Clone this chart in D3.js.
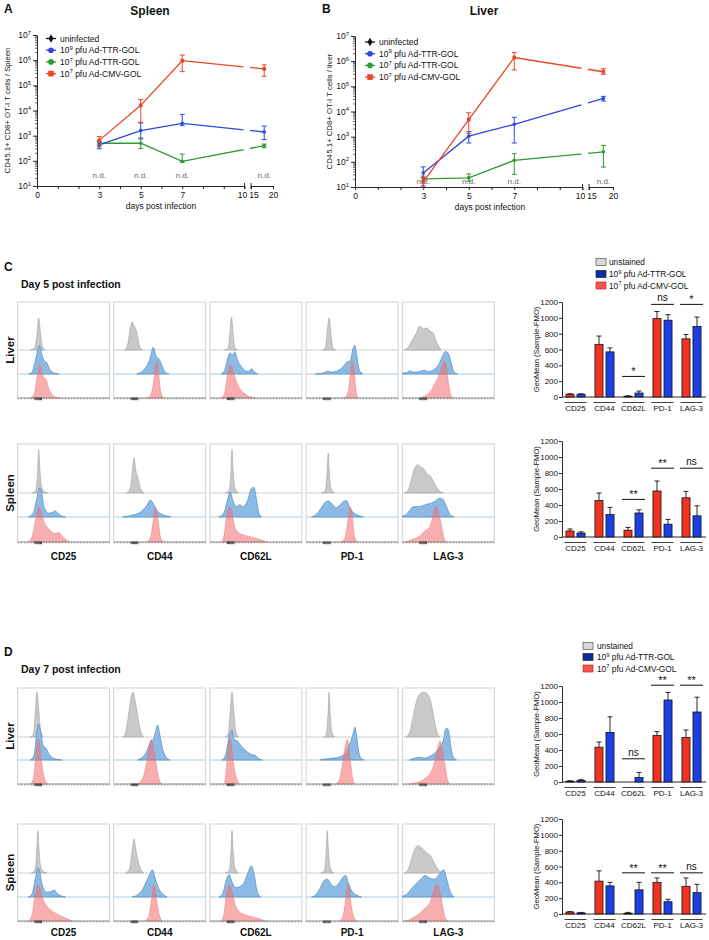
<!DOCTYPE html>
<html><head><meta charset="utf-8">
<script src="https://cdn.jsdelivr.net/npm/d3@7"></script>
<style>
body{margin:0;background:#fff}
svg{display:block}
text{font-family:"Liberation Sans",Arial,Helvetica,sans-serif;fill:#111}
</style>
</head><body>
<svg id="fig" width="709" height="940"></svg>
<script>
// ================= DATA: panels A/B (cells per organ, log scale) =================
const days = [3, 5, 7, 18];
const ndDays = [3, 5, 7, 18];
const decades = [1e1, 1e2, 1e3, 1e4, 1e5, 1e6, 1e7];
const xTickLabels = [0, 3, 5, 7, 10];
const xTickLabels2 = [15, 20];

const spleenTTR9   = [430, 1600, 3100, 1400];
const spleenTTR9Lo = [300, 800, 2500, 700];
const spleenTTR9Hi = [560, 3200, 7000, 2400];
const spleenTTR7   = [500, 500, 95, 400];
const spleenTTR7Lo = [360, 310, 88, 330];
const spleenTTR7Hi = [620, 740, 185, 460];
const spleenCMV    = [650, 16000, 950000, 450000];
const spleenCMVLo  = [420, 3400, 350000, 230000];
const spleenCMVHi  = [920, 27000, 1600000, 650000];

const liverTTR9    = [36, 1050, 3100, 33000];
const liverTTR9Lo  = [10, 560, 560, 26000];
const liverTTR9Hi  = [63, 1600, 5900, 40000];
const liverTTR7    = [21, 23, 115, 250];
const liverTTR7Lo  = [17, 17, 32, 62];
const liverTTR7Hi  = [27, 33, 210, 450];
const liverCMV     = [16, 4800, 1400000, 380000];
const liverCMVLo   = [11, 1350, 450000, 300000];
const liverCMVHi   = [24, 8900, 2200000, 500000];

// ================= DATA: bar charts (GeoMean Sample-FMO) =================
const barCats = ["CD25", "CD44", "CD62L", "PD-1", "LAG-3"];
const barTicks = [0, 200, 400, 600, 800, 1000, 1200];

const cLiverCMV    = [35, 665, 10, 990, 735];
const cLiverCMVErr = [6, 105, 5, 90, 55];
const cLiverTTR    = [35, 570, 50, 970, 890];
const cLiverTTRErr = [6, 50, 25, 70, 120];
const cLiverSig    = [["CD62L", "*", 260], ["PD-1", "ns", 1170], ["LAG-3", "*", 1170]];

const cSpleenCMV    = [75, 455, 85, 575, 490];
const cSpleenCMVErr = [25, 95, 35, 125, 80];
const cSpleenTTR    = [50, 280, 300, 160, 265];
const cSpleenTTRErr = [15, 90, 40, 60, 125];
const cSpleenSig    = [["CD62L", "**", 470], ["PD-1", "**", 860], ["LAG-3", "ns", 860]];

const dLiverCMV    = [10, 435, 0, 580, 555];
const dLiverCMVErr = [5, 65, 0, 50, 95];
const dLiverTTR    = [20, 620, 55, 1025, 875];
const dLiverTTRErr = [10, 195, 65, 95, 185];
const dLiverSig    = [["CD62L", "ns", 290], ["PD-1", "**", 1210], ["LAG-3", "**", 1210]];

const dSpleenCMV    = [25, 415, 10, 400, 350];
const dSpleenCMVErr = [5, 130, 10, 55, 105];
const dSpleenTTR    = [15, 355, 305, 155, 270];
const dSpleenTTRErr = [5, 45, 95, 30, 105];
const dSpleenSig    = [["CD62L", "**", 520], ["PD-1", "**", 520], ["LAG-3", "ns", 520]];

// ================= DATA: histograms ([fluorescence %, % of max]) =================
const cLiverGray = [
  [[14,0],[18,3],[21,30],[23,68],[25,35],[27,8],[30,0]],
  [[12,0],[15,10],[18,45],[20,60],[22,52],[24,45],[26,30],[28,8],[31,0]],
  [[16,0],[20,5],[22,40],[23.5,70],[25,40],[27,6],[30,0]],
  [[18,0],[21,5],[23,40],[25,68],[27,35],[29,5],[32,0]],
  [[2,0],[6,5],[10,18],[15,35],[19,51],[23,45],[27,47],[30,40],[33,38],[37,18],[42,0]]
];
const cLiverBlue = [
  [[12,0],[16,5],[20,35],[23,58],[24,61],[26,45],[29,28],[32,24],[35,10],[40,2],[45,0]],
  [[25,0],[30,4],[35,15],[39,30],[43,57],[46,38],[50,30],[53,15],[57,2],[60,0]],
  [[12,0],[16,8],[20,38],[22,45],[24,40],[27,47],[30,30],[35,14],[40,6],[43,6],[45,11],[48,5],[52,0]],
  [[10,0],[18,2],[24,6],[28,4],[35,8],[40,15],[44,25],[48,28],[51,55],[53,61],[55,40],[58,8],[62,0]],
  [[0,2],[5,3],[8,7],[12,4],[18,5],[24,8],[28,5],[34,9],[40,22],[44,40],[47,48],[50,44],[53,25],[56,5],[60,0]]
];
const cLiverRed = [
  [[14,0],[18,8],[21,40],[24,72],[26,60],[28,45],[31,40],[34,20],[38,6],[42,2],[46,0]],
  [[36,0],[40,6],[43,30],[46,75],[47,80],[49,50],[51,15],[54,0]],
  [[12,0],[16,10],[19,50],[21,68],[23,70],[25,60],[28,40],[32,22],[36,12],[40,6],[45,2],[50,0]],
  [[40,0],[44,5],[47,30],[49,70],[50,78],[52,65],[54,20],[56,0]],
  [[20,0],[25,5],[30,12],[35,30],[38,40],[41,55],[44,75],[46,78],[48,70],[50,35],[53,5],[55,0]]
];
const cSpleenGray = [
  [[16,0],[20,6],[22,50],[23,92],[24,60],[26,15],[29,3],[33,0]],
  [[14,0],[18,10],[20,40],[22,75],[24,48],[26,35],[29,10],[33,0]],
  [[17,0],[21,6],[23,50],[24,92],[25,55],[27,12],[31,0]],
  [[17,0],[21,6],[23,50],[24,85],[25,50],[27,10],[31,0]],
  [[2,0],[6,5],[10,30],[14,55],[17,60],[20,55],[23,52],[27,40],[31,35],[35,20],[40,5],[44,0]]
];
const cSpleenBlue = [
  [[12,0],[17,8],[21,40],[24,62],[26,55],[29,20],[34,8],[38,10],[41,13],[44,8],[48,2],[52,0]],
  [[10,0],[16,2],[22,5],[27,8],[32,15],[36,25],[40,36],[43,28],[47,14],[52,6],[58,2],[62,0]],
  [[10,0],[15,8],[19,35],[22,53],[25,35],[29,22],[32,26],[36,22],[41,35],[45,60],[48,63],[50,45],[53,10],[56,0]],
  [[6,0],[10,4],[15,15],[20,30],[24,34],[28,28],[32,20],[36,24],[40,32],[44,35],[47,22],[51,10],[56,4],[62,0]],
  [[0,2],[4,5],[8,14],[12,22],[16,22],[22,24],[28,28],[32,30],[36,34],[40,40],[44,38],[48,22],[52,5],[56,0]]
];
const cSpleenRed = [
  [[12,0],[16,12],[20,50],[23,74],[26,62],[29,42],[33,30],[37,22],[41,18],[45,20],[48,14],[52,6],[57,0]],
  [[36,0],[40,10],[43,45],[45,74],[47,65],[49,35],[51,10],[54,0]],
  [[12,0],[15,10],[18,55],[21,74],[24,68],[26,40],[30,22],[35,16],[42,12],[50,8],[56,4],[62,0]],
  [[38,0],[42,8],[45,40],[47,72],[48,74],[50,60],[52,20],[55,0]],
  [[3,0],[8,3],[14,8],[20,14],[25,25],[29,30],[32,45],[35,72],[37,74],[40,60],[43,30],[46,5],[48,0]]
];
const dLiverGray = [
  [[14,0],[17,5],[19,40],[21,96],[23,60],[25,15],[28,0]],
  [[10,0],[13,10],[16,45],[19,85],[21,95],[23,80],[26,45],[29,15],[32,0]],
  [[17,0],[20,8],[22,50],[24,95],[26,55],[28,12],[31,0]],
  [[19,0],[22,6],[24,55],[25,95],[26,55],[28,10],[31,0]],
  [[4,0],[8,10],[12,45],[16,80],[20,93],[24,95],[28,90],[31,75],[34,45],[37,15],[41,0]]
];
const dLiverBlue = [
  [[14,0],[18,10],[21,60],[23,76],[25,62],[28,30],[31,25],[34,14],[38,5],[44,1],[48,0]],
  [[26,0],[30,4],[35,15],[40,38],[44,48],[47,72],[48,74],[50,55],[53,25],[57,6],[61,0]],
  [[13,0],[17,10],[21,50],[23,58],[24,64],[26,45],[30,40],[34,30],[40,18],[45,12],[49,10],[53,3],[57,0]],
  [[15,0],[20,2],[30,4],[38,8],[43,15],[47,32],[51,55],[53,70],[55,50],[57,20],[60,3],[63,0]],
  [[8,0],[12,3],[18,6],[24,4],[30,8],[36,16],[41,28],[45,45],[47,66],[49,67],[51,55],[53,25],[56,5],[59,0]]
];
const dLiverRed = [
  [[14,0],[17,10],[20,60],[22,93],[23,95],[25,70],[27,35],[30,8],[33,0]],
  [[25,0],[29,5],[33,20],[36,50],[39,85],[41,95],[43,80],[46,45],[49,12],[52,0]],
  [[15,0],[17,15],[19,60],[21,95],[22,98],[24,75],[26,40],[29,12],[32,0]],
  [[32,0],[36,8],[39,35],[42,75],[44,92],[45,95],[47,70],[49,35],[51,8],[53,0]],
  [[8,0],[13,2],[20,6],[26,14],[30,22],[34,40],[37,65],[40,88],[41,92],[43,80],[46,45],[49,10],[51,0]]
];
const dSpleenGray = [
  [[15,0],[19,6],[21,50],[22,90],[23,60],[25,15],[28,3],[32,0]],
  [[13,0],[17,8],[20,45],[22,72],[24,50],[26,30],[29,10],[33,0]],
  [[17,0],[21,6],[23,50],[24,90],[25,55],[27,12],[31,0]],
  [[16,0],[20,6],[22,50],[23,90],[24,55],[26,12],[30,0]],
  [[2,0],[6,6],[10,30],[14,52],[17,58],[20,55],[23,50],[27,42],[31,36],[35,20],[40,5],[44,0]]
];
const dSpleenBlue = [
  [[12,0],[16,8],[20,45],[22,62],[24,55],[27,25],[32,10],[37,12],[40,15],[43,8],[48,2],[52,0]],
  [[20,0],[26,5],[31,15],[36,35],[40,52],[42,58],[45,40],[49,18],[54,5],[58,0]],
  [[10,0],[14,8],[18,38],[21,48],[24,32],[28,20],[32,22],[37,30],[42,55],[45,66],[48,50],[51,15],[55,0]],
  [[6,0],[10,4],[15,18],[20,36],[23,38],[27,28],[31,22],[36,30],[40,42],[43,46],[46,30],[50,12],[55,4],[60,0]],
  [[0,2],[5,6],[10,18],[15,28],[20,38],[25,46],[30,40],[35,38],[40,48],[45,58],[48,40],[52,12],[56,0]]
];
const dSpleenRed = [
  [[12,0],[16,15],[19,55],[22,78],[25,65],[28,45],[32,32],[37,22],[42,16],[48,10],[55,4],[60,0]],
  [[34,0],[38,10],[41,45],[43,78],[45,70],[47,40],[50,10],[53,0]],
  [[12,0],[15,12],[18,58],[21,78],[24,65],[27,38],[31,22],[36,15],[44,10],[52,6],[60,0]],
  [[36,0],[40,10],[43,45],[45,78],[47,70],[49,35],[52,8],[55,0]],
  [[3,0],[8,3],[14,10],[20,18],[25,28],[29,35],[32,50],[35,72],[38,78],[41,62],[44,30],[47,5],[50,0]]
];

// ================= STYLE =================
const COL = { unin: "#111", ttr9: "#2b47e0", ttr7: "#2f9a33", cmv: "#ea4526" };
const BAR = { cmv: "#ef3320", ttr: "#1d3fe6" };
const svg = d3.select("#fig");

function txt(g, x, y, s, size, opt = {}) {
  const t = g.append("text").attr("x", x).attr("y", y).attr("font-size", size)
    .attr("text-anchor", opt.anchor || "start").attr("font-weight", opt.bold ? "bold" : "normal");
  if (opt.fill) t.style("fill", opt.fill);
  if (opt.rotate) t.attr("transform", `rotate(-90,${x},${y})`);
  t.text(s);
  return t;
}
function supText(g, x, y, base, sup, rest, size, anchor) {
  const t = g.append("text").attr("x", x).attr("y", y).attr("font-size", size).attr("text-anchor", anchor || "start");
  t.append("tspan").text(base);
  t.append("tspan").attr("dy", -size * 0.4).attr("font-size", size * 0.7).text(sup);
  if (rest) t.append("tspan").attr("dy", size * 0.4).text(rest);
  return t;
}
function styleAxis(sel, fs) {
  sel.attr("font-family", null).attr("font-size", fs);
  sel.selectAll("path,line").attr("stroke", "#111").attr("stroke-width", 0.9);
  sel.selectAll("text").style("fill", "#111");
}

// ================= PANELS A / B =================
function linePanel(cfg) {
  const g = svg.append("g");
  const x = d3.scaleLinear().domain([0, 10, 15, 20]).range(cfg.xr);
  const y = d3.scaleLog().domain([10, 1e7]).range([cfg.yb, cfg.yt]);
  const ax0 = cfg.xr[0];
  const ya = g.append("g").attr("transform", `translate(${ax0},0)`)
    .call(d3.axisLeft(y).tickValues(decades).tickFormat("").tickSize(4).tickSizeOuter(0));
  styleAxis(ya, 8);
  decades.slice(0, -1).forEach(d => {
    for (let k = 2; k < 10; k++) {
      g.append("line").attr("x1", ax0 - 2).attr("x2", ax0).attr("y1", y(d * k)).attr("y2", y(d * k))
        .attr("stroke", "#111").attr("stroke-width", 0.6);
    }
  });
  decades.forEach(d => supText(g, ax0 - 6, y(d) + 3, "10", Math.round(Math.log10(d)), null, 8.5, "end"));
  const s1 = d3.scaleLinear().domain([0, 10]).range([x(0), x(10)]);
  const s2 = d3.scaleLinear().domain([15, 20]).range([x(15), x(20)]);
  const xa1 = g.append("g").attr("transform", `translate(0,${cfg.yb})`)
    .call(d3.axisBottom(s1).tickValues(d3.range(0, 11)).tickFormat(d => xTickLabels.includes(d) ? d : "").tickSize(3).tickSizeOuter(0));
  const xa2 = g.append("g").attr("transform", `translate(0,${cfg.yb})`)
    .call(d3.axisBottom(s2).tickValues(xTickLabels2).tickFormat(d3.format("d")).tickSize(3).tickSizeOuter(0));
  styleAxis(xa1, 8.5); styleAxis(xa2, 8.5);
  xa1.selectAll("text").filter(d => d === 10).attr("dx", -2.5);
  xa2.selectAll("text").filter(d => d === 15).attr("dx", 2.5);
  [x(10), x(15)].forEach(px => g.append("line").attr("x1", px).attr("x2", px).attr("y1", cfg.yb - 3).attr("y2", cfg.yb + 3).attr("stroke", "#111").attr("stroke-width", 0.9));

  ndDays.forEach(d => txt(g, x(d), cfg.yb - cfg.ndOff, "n.d.", 8, { anchor: "middle", fill: "#666" }));

  const cid = "clip" + cfg.id;
  const cp = svg.append("clipPath").attr("id", cid);
  cp.append("rect").attr("x", x(0) - 5).attr("y", 0).attr("width", x(10) - x(0) + 4).attr("height", 300);
  cp.append("rect").attr("x", x(15) - 1).attr("y", 0).attr("width", x(20) - x(15) + 10).attr("height", 300);

  const series = [
    { v: cfg.ttr7, lo: cfg.ttr7Lo, hi: cfg.ttr7Hi, c: COL.ttr7, m: "circle" },
    { v: cfg.ttr9, lo: cfg.ttr9Lo, hi: cfg.ttr9Hi, c: COL.ttr9, m: "circle" },
    { v: cfg.cmv, lo: cfg.cmvLo, hi: cfg.cmvHi, c: COL.cmv, m: "square" }
  ];
  const line = d3.line().x((d, i) => x(days[i])).y(d => y(d));
  series.forEach(s => {
    g.append("path").datum(s.v).attr("d", line).attr("fill", "none").attr("stroke", s.c)
      .attr("stroke-width", 1.3).attr("clip-path", `url(#${cid})`);
    days.forEach((d, i) => {
      const px = x(d);
      g.append("line").attr("x1", px).attr("x2", px).attr("y1", y(s.lo[i])).attr("y2", y(s.hi[i])).attr("stroke", s.c).attr("stroke-width", 1);
      [s.lo[i], s.hi[i]].forEach(v => g.append("line").attr("x1", px - 2.5).attr("x2", px + 2.5).attr("y1", y(v)).attr("y2", y(v)).attr("stroke", s.c).attr("stroke-width", 1));
      if (s.m === "circle") g.append("circle").attr("cx", px).attr("cy", y(s.v[i])).attr("r", 1.8).attr("fill", s.c);
      else g.append("rect").attr("x", px - 1.8).attr("y", y(s.v[i]) - 1.8).attr("width", 3.6).attr("height", 3.6).attr("fill", s.c);
    });
  });

  const leg = [
    { c: COL.unin, m: "diamond", t: ["uninfected"] },
    { c: COL.ttr9, m: "circle", t: ["10", "9", " pfu Ad-TTR-GOL"] },
    { c: COL.ttr7, m: "circle", t: ["10", "7", " pfu Ad-TTR-GOL"] },
    { c: COL.cmv, m: "square", t: ["10", "7", " pfu Ad-CMV-GOL"] }
  ];
  leg.forEach((e, i) => {
    const ly = cfg.legY + i * 11.7, lx = cfg.legX;
    g.append("line").attr("x1", lx - 5).attr("x2", lx + 5).attr("y1", ly).attr("y2", ly).attr("stroke", e.c).attr("stroke-width", 1.3);
    if (e.m === "circle") g.append("circle").attr("cx", lx).attr("cy", ly).attr("r", 2.8).attr("fill", e.c);
    else if (e.m === "square") g.append("rect").attr("x", lx - 2.8).attr("y", ly - 2.8).attr("width", 5.6).attr("height", 5.6).attr("fill", e.c);
    else g.append("path").attr("d", d3.symbol(d3.symbolDiamond, 22)()).attr("transform", `translate(${lx},${ly})`).attr("fill", e.c);
    if (e.t.length === 1) txt(g, lx + 9, ly + 3, e.t[0], 8.5);
    else supText(g, lx + 9, ly + 3, e.t[0], e.t[1], e.t[2], 8.5);
  });

  txt(g, cfg.titleX, 15, cfg.title, 12, { anchor: "middle", bold: true });
  txt(g, cfg.letterX, 13, cfg.letter, 12, { bold: true });
  txt(g, (x(0) + x(20)) / 2 + 6, cfg.yb + 23, "days post infection", 8.5, { anchor: "middle" });
  txt(g, cfg.ylabX, (cfg.yb + cfg.yt) / 2, cfg.ylab, 7.8, { anchor: "middle", rotate: true });
}

linePanel({
  id: "A", letter: "A", letterX: 4, title: "Spleen", titleX: 150,
  xr: [37, 244.5, 251, 273], yb: 186, yt: 35, ndOff: 8,
  ttr9: spleenTTR9, ttr9Lo: spleenTTR9Lo, ttr9Hi: spleenTTR9Hi,
  ttr7: spleenTTR7, ttr7Lo: spleenTTR7Lo, ttr7Hi: spleenTTR7Hi,
  cmv: spleenCMV, cmvLo: spleenCMVLo, cmvHi: spleenCMVHi,
  legX: 51, legY: 38.5, ylabX: 10, ylab: "CD45.1+ CD8+ OT-I T cells / Spleen"
});
linePanel({
  id: "B", letter: "B", letterX: 322, title: "Liver", titleX: 484,
  xr: [355, 582.5, 589, 613], yb: 187, yt: 36, ndOff: 3,
  ttr9: liverTTR9, ttr9Lo: liverTTR9Lo, ttr9Hi: liverTTR9Hi,
  ttr7: liverTTR7, ttr7Lo: liverTTR7Lo, ttr7Hi: liverTTR7Hi,
  cmv: liverCMV, cmvLo: liverCMVLo, cmvHi: liverCMVHi,
  legX: 370, legY: 42, ylabX: 332, ylab: "CD45.1+ CD8+ OT-I T cells / liver"
});

// ================= HISTOGRAMS =================
function histRow(cfg) {
  const g = svg.append("g");
  const hy = d3.scaleLinear().domain([0, 100]).range([0, 47]);
  for (let i = 0; i < 5; i++) {
    const x0 = 17.5 + i * 96.2, w = 92;
    const hx = d3.scaleLinear().domain([0, 100]).range([x0, x0 + w]);
    g.append("rect").attr("x", x0).attr("y", cfg.top).attr("width", w).attr("height", cfg.bases[2] - cfg.top)
      .attr("fill", "none").attr("stroke", "#d2d2d2").attr("stroke-width", 1);
    g.append("line").attr("x1", x0).attr("x2", x0 + w).attr("y1", cfg.bases[0]).attr("y2", cfg.bases[0]).attr("stroke", "#c8c8c8").attr("stroke-width", 0.9);
    g.append("line").attr("x1", x0).attr("x2", x0 + w).attr("y1", cfg.bases[1]).attr("y2", cfg.bases[1]).attr("stroke", "#a6cfe0").attr("stroke-width", 1.1);
    const layers = [
      { d: cfg.gray[i], b: cfg.bases[0], fill: "#c9c9c9", stroke: "#a8a8a8", op: 1 },
      { d: cfg.blue[i], b: cfg.bases[1], fill: "#8bbbe4", stroke: "#4f8cc4", op: 1 },
      { d: cfg.red[i], b: cfg.bases[2], fill: "rgb(242,108,108)", stroke: "rgba(236,120,120,0.7)", op: 0.55 }
    ];
    layers.forEach(L => {
      const area = d3.area().curve(d3.curveMonotoneX).x(d => hx(d[0])).y0(L.b).y1(d => L.b - hy(d[1]));
      g.append("path").datum(L.d).attr("d", area).attr("fill", L.fill).attr("fill-opacity", L.op)
        .attr("stroke", L.stroke).attr("stroke-width", 0.7);
    });
    g.append("line").attr("x1", x0).attr("x2", x0 + w).attr("y1", cfg.bases[2]).attr("y2", cfg.bases[2]).attr("stroke", "#8a8a8a").attr("stroke-width", 0.8);
    d3.range(1, 100, 3.4).forEach(p => g.append("line").attr("x1", hx(p)).attr("x2", hx(p)).attr("y1", cfg.bases[2]).attr("y2", cfg.bases[2] + 1.6).attr("stroke", "#666").attr("stroke-width", 0.5));
    d3.range(19, 27, 1.2).forEach(p => g.append("line").attr("x1", hx(p)).attr("x2", hx(p)).attr("y1", cfg.bases[2] - 0.5).attr("y2", cfg.bases[2] + 2.2).attr("stroke", "#111").attr("stroke-width", 0.7));
    if (cfg.labelY) txt(g, x0 + w / 2, cfg.labelY, barCats[i], 10, { anchor: "middle", bold: true });
  }
  txt(g, 14, (cfg.top + cfg.bases[2]) / 2, cfg.tissue, 11.5, { anchor: "middle", bold: true, rotate: true });
}
histRow({ top: 302, bases: [350, 374, 398], gray: cLiverGray, blue: cLiverBlue, red: cLiverRed, tissue: "Liver" });
histRow({ top: 444, bases: [493, 517, 542], gray: cSpleenGray, blue: cSpleenBlue, red: cSpleenRed, tissue: "Spleen", labelY: 560 });
histRow({ top: 688, bases: [737, 760, 784], gray: dLiverGray, blue: dLiverBlue, red: dLiverRed, tissue: "Liver" });
histRow({ top: 824, bases: [873, 897, 921], gray: dSpleenGray, blue: dSpleenBlue, red: dSpleenRed, tissue: "Spleen", labelY: 936 });

txt(svg, 4, 271, "C", 12, { bold: true });
txt(svg, 21, 288, "Day 5 post infection", 10.5, { bold: true });
txt(svg, 4, 656, "D", 12, { bold: true });
txt(svg, 21, 673, "Day 7 post infection", 10.5, { bold: true });

// ================= BAR CHARTS =================
function barChart(cfg) {
  const g = svg.append("g");
  const y = d3.scaleLinear().domain([0, 1200]).range([cfg.y0, cfg.yTop]);
  const xb = d3.scaleBand().domain(barCats).range([561, 706]);
  const xs = d3.scaleBand().domain(["cmv", "ttr"]).range([0, xb.bandwidth()]).paddingInner(0.27).paddingOuter(0.45);
  const ya = g.append("g").attr("transform", "translate(562,0)")
    .call(d3.axisLeft(y).tickValues(barTicks).tickFormat(d3.format("d")).tickSize(3).tickSizeOuter(0));
  styleAxis(ya, 8);
  ya.selectAll("text").attr("x", -4);
  g.append("line").attr("x1", 562).attr("x2", 706).attr("y1", cfg.y0).attr("y2", cfg.y0).attr("stroke", "#111").attr("stroke-width", 0.9);
  barCats.forEach((c, i) => {
    const cx = xb(c) + xb.bandwidth() / 2;
    g.append("line").attr("x1", cx - 11).attr("x2", cx + 11).attr("y1", cfg.y0 + 5.5).attr("y2", cfg.y0 + 5.5).attr("stroke", "#111").attr("stroke-width", 0.8);
    txt(g, cx, cfg.y0 + 13.5, c, 8, { anchor: "middle" });
    [["cmv", cfg.cmv, cfg.cmvErr, BAR.cmv], ["ttr", cfg.ttr, cfg.ttrErr, BAR.ttr]].forEach(([k, vals, errs, col]) => {
      const bx = xb(c) + xs(k), bw = xs.bandwidth(), v = vals[i], e = errs[i];
      const mx = bx + bw / 2;
      if (e > 0) {
        g.append("line").attr("x1", mx).attr("x2", mx).attr("y1", y(v)).attr("y2", y(v + e)).attr("stroke", "#111").attr("stroke-width", 0.9);
        g.append("line").attr("x1", mx - 2.5).attr("x2", mx + 2.5).attr("y1", y(v + e)).attr("y2", y(v + e)).attr("stroke", "#111").attr("stroke-width", 0.9);
      }
      if (v > 0) g.append("rect").attr("x", bx).attr("y", y(v)).attr("width", bw).attr("height", y(0) - y(v))
        .attr("fill", col).attr("stroke", "#111").attr("stroke-width", 0.8);
    });
  });
  cfg.sig.forEach(([c, lab, v]) => {
    const x1 = xb(c) + 3, x2 = xb(c) + xb.bandwidth() - 3;
    g.append("line").attr("x1", x1).attr("x2", x2).attr("y1", y(v)).attr("y2", y(v)).attr("stroke", "#111").attr("stroke-width", 1);
    txt(g, (x1 + x2) / 2, y(v) - (lab === "ns" ? 3 : 1), lab, lab === "ns" ? 10 : 11, { anchor: "middle" });
  });
  txt(g, 539, (cfg.y0 + cfg.yTop) / 2, "GeoMean (Sample-FMO)", 7.6, { anchor: "middle", rotate: true });
}
barChart({ y0: 397, yTop: 302, cmv: cLiverCMV, cmvErr: cLiverCMVErr, ttr: cLiverTTR, ttrErr: cLiverTTRErr, sig: cLiverSig });
barChart({ y0: 537, yTop: 441, cmv: cSpleenCMV, cmvErr: cSpleenCMVErr, ttr: cSpleenTTR, ttrErr: cSpleenTTRErr, sig: cSpleenSig });
barChart({ y0: 782, yTop: 686, cmv: dLiverCMV, cmvErr: dLiverCMVErr, ttr: dLiverTTR, ttrErr: dLiverTTRErr, sig: dLiverSig });
barChart({ y0: 914, yTop: 819, cmv: dSpleenCMV, cmvErr: dSpleenCMVErr, ttr: dSpleenTTR, ttrErr: dSpleenTTRErr, sig: dSpleenSig });

function barLegend(bx, tx, ys) {
  const items = [
    { f: "#d9d9d9", s: "#555", t: ["unstained"] },
    { f: "#0c2aa3", s: "#222", t: ["10", "9", " pfu Ad-TTR-GOL"] },
    { f: "#f0544c", s: "#c23", t: ["10", "7", " pfu Ad-CMV-GOL"] }
  ];
  items.forEach((it, i) => {
    svg.append("rect").attr("x", bx).attr("y", ys[i] - 3.5).attr("width", 10).attr("height", 7)
      .attr("fill", it.f).attr("stroke", it.s).attr("stroke-width", 0.7);
    if (it.t.length === 1) txt(svg, tx, ys[i] + 3, it.t[0], 8.3);
    else supText(svg, tx, ys[i] + 3, it.t[0], it.t[1], it.t[2], 8.3);
  });
}
barLegend(596, 609, [262, 274, 285.5]);
barLegend(583, 597, [646, 657, 668.5]);
</script>
</body></html>
